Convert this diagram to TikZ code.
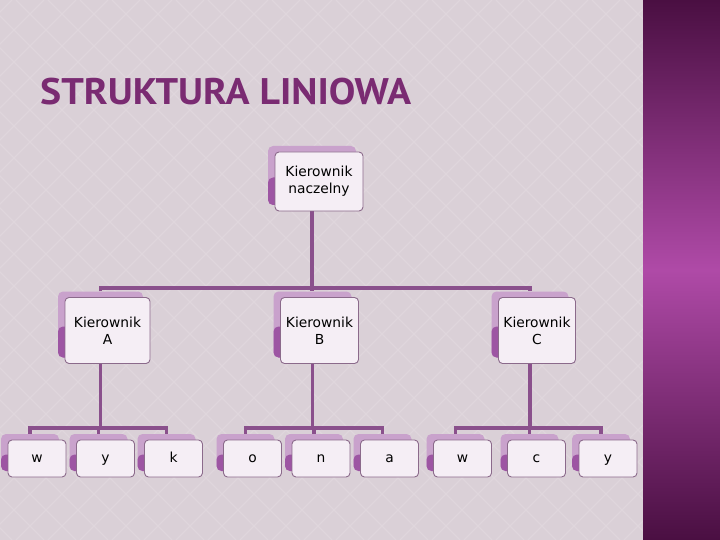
\documentclass[tikz,border=0pt]{standalone}
\usepackage{fontspec}
\setmainfont{DejaVu Sans}
\newfontfamily\titlefont{PT Sans}
\definecolor{bgcol}{HTML}{DAD0D7}
\definecolor{bgline}{HTML}{DFD6DC}
\definecolor{linecol}{HTML}{8A508C}
\definecolor{backtop}{HTML}{C9A2CC}
\definecolor{backlow}{HTML}{9D55A3}
\definecolor{frontfill}{HTML}{F5EEF5}
\definecolor{boxborder}{HTML}{8B6A8B}
\definecolor{titlecol}{HTML}{7A2B72}
\definecolor{bardark}{HTML}{4A0F42}
\definecolor{barmid}{HTML}{AF4AA7}
\pgfdeclarelayer{bgl}
\pgfdeclarelayer{lines}
\pgfsetlayers{bgl,lines,main}
\tikzset{
  frontbox/.style={draw=boxborder, line width=0.9pt, rounded corners=4pt, fill=frontfill,
    inner sep=0pt, align=center, font=\fontsize{13.8}{17}\selectfont, text=black},
  backbox/.style={rounded corners=5pt, fill=backtop, inner sep=0pt,
    path picture={\fill[backlow] ([yshift=-2pt]path picture bounding box.west) rectangle (path picture bounding box.south east);}},
  conn/.style={draw=linecol, line width=3.2pt},
  leaf/.style={text height=7pt, text depth=0pt}
}
\newcommand\orgpair[7][]{%
  \node[backbox, minimum width=#5pt, minimum height=#6pt] (#2b) at ({#3-7},{#4-6}) {};
  \node[frontbox, minimum width=#5pt, minimum height=#6pt, #1] (#2) at (#3,#4) {#7};}
\begin{document}
\begin{tikzpicture}[x=1pt,y=-1pt]
\begin{pgfonlayer}{bgl}
  \fill[bgcol] (0,0) rectangle (720,540);
  \begin{scope}
    \clip (0,0) rectangle (643,540);
    \foreach \i in {-560,-528,...,660} {
      \draw[bgline, line width=1.2pt] (\i,0) -- ({\i+540},540);
      \draw[bgline, line width=1.2pt] ({\i+540},0) -- (\i,540);
    }
  \end{scope}
  \shade[top color=bardark, bottom color=bardark, middle color=barmid] (643,0) rectangle (720,540);
\end{pgfonlayer}

\node[anchor=base west, inner sep=0pt, text=titlecol, xscale=1.075, font=\titlefont\bfseries\fontsize{37}{40}\selectfont] (title) at (40,105) {STRUKTURA LINIOWA};

% level 1
\orgpair{t}{319}{181.5}{88}{59}{Kierownik\\naczelny}
% level 2
\orgpair{A}{107.5}{330.5}{85}{66}{Kierownik\\A}
\orgpair{B}{319.5}{330.5}{78}{66}{Kierownik\\B}
\orgpair{C}{537}{330.5}{77}{66}{Kierownik\\C}
% level 3
\orgpair[leaf]{a1}{37}{458.5}{58}{37}{w}
\orgpair[leaf]{a2}{105.5}{458.5}{58}{37}{y}
\orgpair[leaf]{a3}{173.5}{458.5}{58}{37}{k}
\orgpair[leaf]{b1}{252.5}{458.5}{58}{37}{o}
\orgpair[leaf]{b2}{321}{458.5}{58}{37}{n}
\orgpair[leaf]{b3}{389.5}{458.5}{58}{37}{a}
\orgpair[leaf]{c1}{462.5}{458.5}{58}{37}{w}
\orgpair[leaf]{c2}{536.5}{458.5}{58}{37}{c}
\orgpair[leaf]{c3}{608}{458.5}{58}{37}{y}

\begin{pgfonlayer}{lines}
  \coordinate (bus) at (tb.south |- 0,288);
  \draw[conn] (tb.south) -- (bus);
  \draw[conn] (Ab.north) |- (bus) -| (Cb.north);
  \draw[conn] (bus) -- (bus |- Bb.north);
  \coordinate (busA) at (Ab.south |- 0,428);
  \coordinate (busB) at (Bb.south |- 0,428);
  \coordinate (busC) at (Cb.south |- 0,428);
  \draw[conn] (Ab.south) -- (busA);
  \draw[conn] (Bb.south) -- (busB);
  \draw[conn] (Cb.south) -- (busC);
  \draw[conn] (a1b.north) |- (busA) -| (a3b.north);
  \draw[conn] (a2b.north) -- (a2b.north |- busA);
  \draw[conn] (b1b.north) |- (busB) -| (b3b.north);
  \draw[conn] (b2b.north) -- (b2b.north |- busB);
  \draw[conn] (c1b.north) |- (busC) -| (c3b.north);
  \draw[conn] (c2b.north) -- (c2b.north |- busC);
\end{pgfonlayer}
\end{tikzpicture}
\end{document}
